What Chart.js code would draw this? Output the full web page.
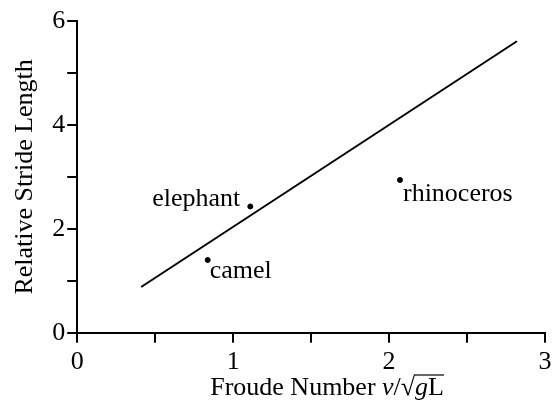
<!DOCTYPE html>
<html>
<head>
<meta charset="utf-8">
<script src="https://cdn.jsdelivr.net/npm/chart.js@4"></script>
<style>
  html, body { margin: 0; padding: 0; background: #fff; }
  #wrap { width: 560px; height: 404px; }
</style>
</head>
<body>
<div id="wrap"><canvas id="strideChart" width="560" height="404"></canvas></div>
<script>
const animals = ["camel", "elephant", "rhinoceros"];
const froude = [0.837, 1.11, 2.07];
const stride = [1.40, 2.43, 2.94];
const fitX = [0.41, 2.82];
const fitY = [0.88, 5.61];

const serif = "'Liberation Serif', 'Times New Roman', serif";
const fs = 26;

// label offsets (px) from each point to the text baseline
const labelPos = [
    { dx: 2, dy: 18, align: 'left' },
    { dx: -10, dy: 0, align: 'right' },
    { dx: 3, dy: 21, align: 'left' }
];

const pointLabels = {
    id: 'pointLabels',
    afterDatasetsDraw(chart) {
        const ctx = chart.ctx;
        const xs = chart.scales.x, ys = chart.scales.y;
        ctx.save();
        ctx.font = fs + "px " + serif;
        ctx.fillStyle = '#000';
        ctx.textBaseline = 'alphabetic';
        animals.forEach((name, i) => {
            ctx.textAlign = labelPos[i].align;
            ctx.fillText(name, xs.getPixelForValue(froude[i]) + labelPos[i].dx, ys.getPixelForValue(stride[i]) + labelPos[i].dy);
        });
        ctx.restore();
    }
};

// x title has italic symbols and a root bar, so draw it by hand
const xTitle = {
    id: 'xTitle',
    afterDraw(chart) {
        const ctx = chart.ctx;
        const area = chart.chartArea;
        const parts = [
            ["Froude Number ", fs + "px " + serif],
            ["v", "italic " + fs + "px " + serif],
            ["/\u221A", fs + "px " + serif],
            ["g", "italic " + fs + "px " + serif],
            ["L", fs + "px " + serif]
        ];
        ctx.save();
        let total = 0;
        parts.forEach(p => { ctx.font = p[1]; total += ctx.measureText(p[0]).width; });
        let x = (area.left + area.right) / 2 - total / 2 + 16;
        const y = 395;
        ctx.fillStyle = '#000';
        ctx.textBaseline = 'alphabetic';
        ctx.textAlign = 'left';
        let barStart = 0;
        parts.forEach((p, i) => {
            ctx.font = p[1];
            ctx.fillText(p[0], x, y);
            if (i === 3) barStart = x;
            x += ctx.measureText(p[0]).width;
        });
        ctx.strokeStyle = '#000';
        ctx.lineWidth = 1.2;
        ctx.beginPath();
        ctx.moveTo(barStart - 1, y - 20);
        ctx.lineTo(x, y - 20);
        ctx.stroke();
        ctx.restore();
    }
};

new Chart(document.getElementById('strideChart'), {
    type: 'scatter',
    data: {
        datasets: [{
            type: 'line',
            data: fitX.map((v, i) => ({ x: v, y: fitY[i] })),
            borderColor: '#000',
            borderWidth: 2,
            pointRadius: 0,
            fill: false
        }, {
            data: froude.map((v, i) => ({ x: v, y: stride[i] })),
            backgroundColor: '#000',
            borderColor: '#000',
            pointRadius: 2.5
        }]
    },
    options: {
        responsive: false,
        animation: false,
        layout: { padding: { top: 21, right: 15, bottom: 0, left: 10 } },
        plugins: { legend: { display: false }, tooltip: { enabled: false } },
        scales: {
            x: {
                type: 'linear',
                min: 0, max: 3,
                ticks: {
                    stepSize: 0.5,
                    color: '#000',
                    font: { family: serif, size: fs },
                    padding: 4,
                    maxRotation: 0,
                    callback: v => Number.isInteger(v) ? v : ''
                },
                grid: { drawOnChartArea: false, color: '#000', lineWidth: 2, tickLength: 10 },
                border: { color: '#000', width: 2 },
                title: { display: true, text: 'Froude Number', color: 'rgba(0,0,0,0)', font: { family: serif, size: fs, lineHeight: 0.85 }, padding: { top: 0, bottom: 0 } }
            },
            y: {
                min: 0, max: 6,
                ticks: {
                    stepSize: 1,
                    color: '#000',
                    font: { family: serif, size: fs },
                    padding: 2,
                    callback: v => v % 2 === 0 ? v : ''
                },
                grid: { drawOnChartArea: false, color: '#000', lineWidth: 2, tickLength: 10 },
                border: { color: '#000', width: 2 },
                title: { display: true, text: 'Relative Stride Length', color: '#000', font: { family: serif, size: fs }, padding: { top: 0, bottom: 9 } }
            }
        }
    },
    plugins: [pointLabels, xTitle]
});
</script>
</body>
</html>
